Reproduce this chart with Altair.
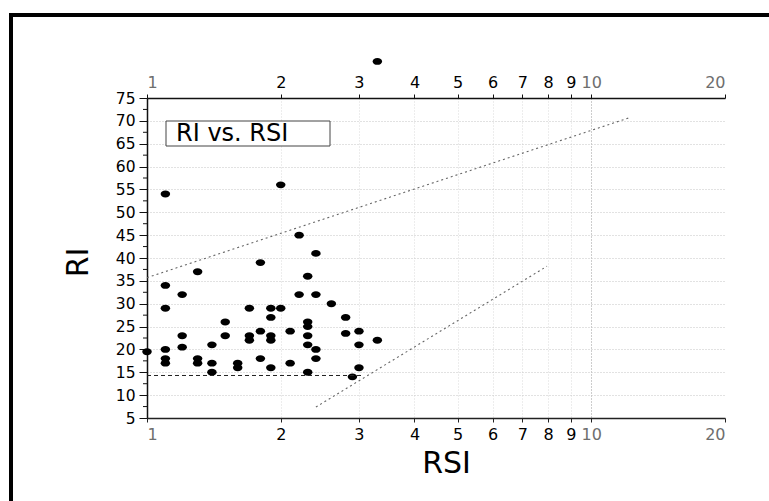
import altair as alt
import pandas as pd

# RSI / RI samples
rsi = [1.0,
       1.1, 1.1, 1.1, 1.1, 1.1, 1.1,
       1.2, 1.2, 1.2,
       1.3, 1.3, 1.3,
       1.4, 1.4, 1.4,
       1.5, 1.5,
       1.6, 1.6,
       1.7, 1.7, 1.7,
       1.8, 1.8, 1.8,
       1.9, 1.9, 1.9, 1.9, 1.9,
       2.0, 2.0,
       2.1, 2.1,
       2.2, 2.2,
       2.3, 2.3, 2.3, 2.3, 2.3, 2.3,
       2.4, 2.4, 2.4, 2.4,
       2.6,
       2.8, 2.8,
       2.9,
       3.0, 3.0, 3.0,
       3.3, 3.3]
ri = [19.5,
      54, 34, 29, 20, 18, 17,
      32, 23, 20.5,
      37, 18, 17,
      21, 17, 15,
      26, 23,
      17, 16,
      29, 23, 22,
      39, 24, 18,
      29, 27, 23, 22, 16,
      56, 29,
      24, 17,
      45, 32,
      36, 26, 25, 23, 21, 15,
      41, 32, 20, 18,
      30,
      27, 23.5,
      14,
      24, 21, 16,
      22, 83]

# guide lines (endpoints)
upper_rsi = [1.0, 12.2]
upper_ri = [35.7, 70.7]
lower_rsi = [2.4, 7.95]
lower_ri = [7.4, 38.2]
base_rsi = [1.0, 3.07]
base_ri = [14.3, 14.3]

x_ticks = [1, 2, 3, 4, 5, 6, 7, 8, 9, 10, 20]
y_ticks = [5, 10, 15, 20, 25, 30, 35, 40, 45, 50, 55, 60, 65, 70, 75]
y_minor = [7.5, 12.5, 17.5, 22.5, 27.5, 32.5, 37.5, 42.5, 47.5, 52.5,
           57.5, 62.5, 67.5, 72.5]

FONT = "DejaVu Sans"
W, H = 578, 320

pts = pd.DataFrame({"rsi": rsi, "ri": ri})
upper = pd.DataFrame({"rsi": upper_rsi, "ri": upper_ri})
lower = pd.DataFrame({"rsi": lower_rsi, "ri": lower_ri})
base = pd.DataFrame({"rsi": base_rsi, "ri": base_ri})
minor = pd.DataFrame({"ri": y_minor})
one = pd.DataFrame({"k": [0]})

xs = alt.Scale(type="log", domain=[1, 20], nice=False)
ys = alt.Scale(domain=[5, 75], nice=False, zero=False)

label_color = {"condition": {"test": "datum.value == 1 || datum.value >= 10",
                             "value": "#6e6e6e"}, "value": "#000000"}

bottom_axis = alt.Axis(
    orient="bottom", values=x_ticks, title="RSI", format="d",
    labelFont=FONT, labelFontSize=16, labelColor=label_color, labelPadding=4,
    tickSize=4, tickColor="#222", domainColor="#222", domainWidth=1.5,
    titleFont=FONT, titleFontSize=30, titleFontWeight="normal", titleColor="#000",
    titleX=299, titleY=45, titleAlign="center", titleBaseline="middle",
    grid=True, gridDash=[1, 2], gridWidth=1,
    gridColor={"condition": {"test": "datum.value == 10", "value": "#9a9a9a"},
               "value": "#dadada"},
    gridOpacity={"condition": {"test": "datum.value == 1 || datum.value == 20",
                               "value": 0}, "value": 1},
)
top_axis = alt.Axis(
    orient="top", values=x_ticks, title=None, format="d",
    labelFont=FONT, labelFontSize=16, labelColor=label_color, labelPadding=4,
    tickSize=4, tickColor="#111", domainColor="#111", domainWidth=1.5,
    grid=False,
)
left_axis = alt.Axis(
    orient="left", values=y_ticks, title="RI", format="d",
    labelFont=FONT, labelFontSize=15.5, labelColor="#000", labelPadding=4,
    tickSize=8, tickColor="#111", domainColor="#111", domainWidth=1.5,
    titleFont=FONT, titleFontSize=30, titleFontWeight="normal", titleColor="#000",
    titleX=-69, titleY=164, titleAngle=270, titleAlign="center",
    titleBaseline="middle",
    grid=True, gridDash=[1, 2], gridColor="#c4c4c4", gridWidth=1,
    gridOpacity={"condition": {"test": "datum.value == 5 || datum.value == 75",
                               "value": 0}, "value": 1},
)

ellipse = "M-1,0A1,0.72,0,1,1,1,0A1,0.72,0,1,1,-1,0Z"


def y_enc():
    return alt.Y("ri:Q", scale=ys, axis=left_axis)


points = alt.Chart(pts).mark_point(
    shape=ellipse, filled=True, color="#000000", opacity=1, size=90
).encode(
    x=alt.X("rsi:Q", scale=xs, axis=bottom_axis),
    y=y_enc(),
)

upper_line = alt.Chart(upper).mark_line(
    color="#666666", strokeDash=[2, 3], strokeWidth=1.1
).encode(
    x=alt.X("rsi:Q", scale=xs, axis=top_axis),
    y=y_enc(),
)

lower_line = alt.Chart(lower).mark_line(
    color="#666666", strokeDash=[2, 3], strokeWidth=1.1
).encode(
    x=alt.X("rsi:Q", scale=xs, axis=None),
    y=y_enc(),
)

base_line = alt.Chart(base).mark_line(
    color="#222222", strokeDash=[4, 3], strokeWidth=1
).encode(
    x=alt.X("rsi:Q", scale=xs, axis=None),
    y=y_enc(),
)

# minor ticks on the RI axis
minor_ticks = alt.Chart(minor).mark_rule(color="#111111", strokeWidth=1).encode(
    x=alt.value(-4), x2=alt.value(0),
    y=y_enc(),
)

# legend box
legend_box = alt.Chart(one).mark_rect(
    fill="white", stroke="#444444", strokeWidth=1
).encode(
    x=alt.value(19), x2=alt.value(183), y=alt.value(23), y2=alt.value(48)
)
legend_text = alt.Chart(one).mark_text(
    text="RI vs. RSI", font=FONT, fontSize=24, align="left",
    baseline="middle", color="#000000"
).encode(x=alt.value(29), y=alt.value(36))

# outer frame
frame = alt.Chart(one).mark_rect(
    fill=None, stroke="#000000", strokeWidth=4
).encode(
    x=alt.value(-136), x2=alt.value(800), y=alt.value(-83), y2=alt.value(600)
)

chart = alt.layer(
    points, upper_line, lower_line, base_line, minor_ticks,
    legend_box, legend_text, frame
).resolve_axis(
    x="independent"
).properties(
    width=W, height=H,
    autosize=alt.AutoSizeParams(type="none"),
    padding={"left": 147, "top": 98, "right": 44, "bottom": 83},
    background="white",
).configure_view(stroke=None)

chart.save("out.html", embed_options={"renderer": "svg", "actions": False})
